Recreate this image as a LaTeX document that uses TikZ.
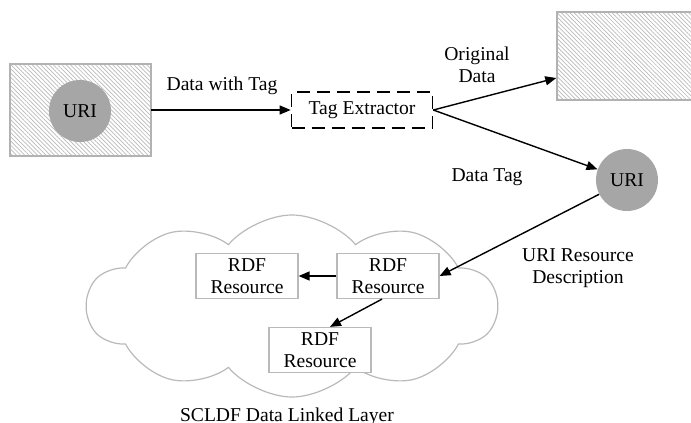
\documentclass[tikz,border=0pt]{standalone}
\usepackage{fontspec}
\setmainfont{Liberation Serif}
\usepackage{tikz}
\usetikzlibrary{arrows.meta,patterns.meta,shapes.symbols}

\begin{document}
\begin{tikzpicture}[x=0.5pt, y=-0.5pt, font=\fontsize{9.8}{11}\selectfont,
    hatchbox/.style={draw=gray!60, line width=0.7pt, pattern={Lines[angle=-45,distance=1.5pt,line width=0.35pt]}, pattern color=gray!55},
    uridot/.style={circle, fill=gray!70, minimum size=31pt, inner sep=0pt},
    rdfbox/.style={draw=gray!55, line width=0.6pt, fill=white, minimum width=51pt, minimum height=22.5pt, inner sep=0pt, align=center},
    link/.style={line width=0.7pt, -{Triangle[length=5.5pt,width=4.5pt]}}]
    \clip (0,0) rectangle (691,423);
    \useasboundingbox (0,0) rectangle (691,423);
    %%Nguon du lieu
    \node[hatchbox, minimum width=70.5pt, minimum height=46pt] (srcbox) at (80.5,110) {};
    \node[uridot] (srcuri) at (80,111) {URI};
    \node[draw, line width=0.8pt, dash pattern=on 6.5pt off 3.5pt, minimum width=70.5pt, minimum height=18pt, inner sep=0pt] (tagext) at (362,110) {Tag Extractor};
    \node[hatchbox, minimum width=72pt, minimum height=44pt] (origdata) at (629,56) {};
    \node[uridot] (uritag) at (627,180) {URI};
    %%Dam may
    \node[cloud, cloud puffs=10, cloud puff arc=100, aspect=2.25, draw=gray!55, line width=0.6pt, minimum width=205pt, minimum height=91pt] (cloud) at (292,306) {};
    \node[rdfbox] (rdfa) at (247,276) {RDF\\Resource};
    \node[rdfbox] (rdfb) at (388,276) {RDF\\Resource};
    \node[rdfbox] (rdfc) at (320,350) {RDF\\Resource};
    %%Cac mui ten
    \draw[link] (srcbox.east) -- (tagext.west);
    \draw[link] (tagext.east) -- ([yshift=-11pt]origdata.west);
    \draw[link] (tagext.east) -- (uritag);
    \draw[link] (uritag) -- (rdfb.east);
    \draw[link] (rdfb.west) -- (rdfa.east);
    \draw[link] ([xshift=-3pt]rdfb.south) -- ([xshift=5pt]rdfc.north);
    %%Nhan
    \node (lbtag) at (222,86) {Data with Tag};
    \node[align=center] (lborig) at (477,65) {Original\\Data};
    \node (lbdtag) at (487,177) {Data Tag};
    \node[align=center] (lburi) at (578,268) {URI Resource\\Description};
    \node[anchor=base] (lblayer) at (287,421) {SCLDF Data Linked Layer};
\end{tikzpicture}
\end{document}
